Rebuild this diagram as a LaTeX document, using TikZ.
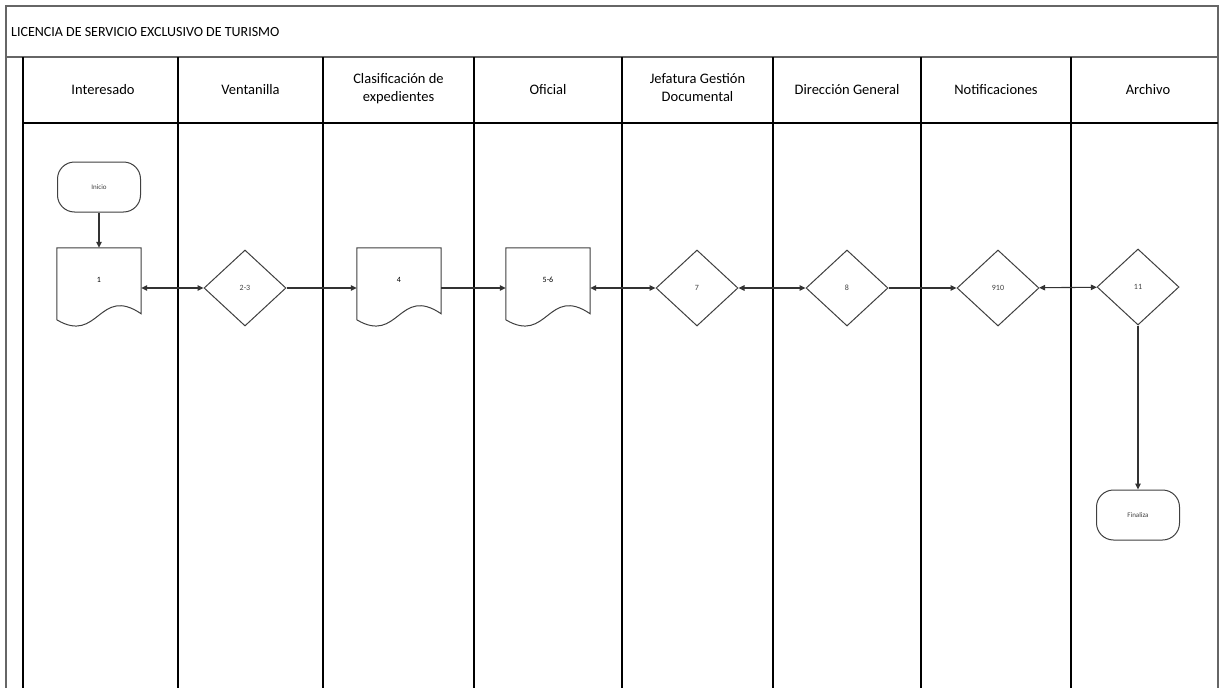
\documentclass[tikz,border=0pt]{standalone}
\usepackage{fontspec}
\setmainfont{Carlito}
\usetikzlibrary{shapes.geometric,arrows.meta,calc}

% wavy-bottom document outline around a named node
\newcommand\docoutline[1]{%
  \draw[shapeline,fill=white]
    (#1.north east) -- (#1.north west) -- ($(#1.north west)+(0,72)$)
    .. controls ($(#1.north west)+(42,97)$) and ($(#1.north west)+(42,37)$)
    .. ($(#1.north east)+(0,66)$) -- cycle;}

\begin{document}
\begin{tikzpicture}[x=1pt,y=-1pt,
  frame/.style={line width=1.3pt, black!60},
  lane/.style={line width=1.6pt, black},
  hdr/.style={font=\fontsize{14.5}{18}\selectfont, align=center, inner sep=0},
  shapeline/.style={line width=1pt, black!75},
  term/.style={shapeline, draw, fill=white, rounded corners=17pt,
    minimum width=83pt, minimum height=50pt, inner sep=0,
    font=\fontsize{7}{8}\selectfont},
  decision/.style={diamond, shapeline, draw, fill=white, inner sep=0,
    minimum width=82pt, minimum height=76pt, font=\fontsize{8}{9}\selectfont},
  docbody/.style={minimum width=84pt, minimum height=80pt, inner sep=0},
  doclabel/.style={font=\fontsize{8}{9}\selectfont, inner sep=0},
  flow/.style={line width=1.1pt, black!80, -{Triangle[length=6pt,width=5.5pt]}},
  twoway/.style={line width=1.1pt, black!80, {Triangle[length=6pt,width=5.5pt]}-{Triangle[length=6pt,width=5.5pt]}}
]
\useasboundingbox (0,0) rectangle (1219,688);
\fill[white] (0,0) rectangle (1219,688);

% outer frame and title band
\draw[frame] (6,688) -- (6,6) -- (1218,6) -- (1218,688);
\draw[frame] (6,57) -- (1218,57);
\node[anchor=west, inner sep=0, font=\fontsize{14}{16}\selectfont] (title) at (11,32)
  {LICENCIA DE SERVICIO EXCLUSIVO DE TURISMO};

% swimlane grid
\draw[lane] (23,57) -- (23,688);
\foreach \x in {178,323,474,622,773,921,1071}
  \draw[lane] (\x,57) -- (\x,688);
\draw[lane] (23,123) -- (1218,123);

% lane headers
\node[hdr] (h1) at (103,90) {Interesado};
\node[hdr] (h2) at (250.5,90) {Ventanilla};
\node[hdr] (h3) at (398.5,89) {Clasificación de\\expedientes};
\node[hdr] (h4) at (548,90) {Oficial};
\node[hdr] (h5) at (697.5,88) {Jefatura Gestión\\Documental};
\node[hdr] (h6) at (847,90) {Dirección General};
\node[hdr] (h7) at (996,90) {Notificaciones};
\node[hdr] (h8) at (1148,90) {Archivo};

% flow nodes
\node[term] (inicio) at (99,187) {Inicio};
\node[docbody] (d1) at (99,288) {};
\docoutline{d1}
\node[doclabel] (t1) at ($(d1.north)+(0,32)$) {1};
\node[decision] (c23) at (245,288) {2-3};
\node[docbody] (d4) at (399,288) {};
\docoutline{d4}
\node[doclabel] (t4) at ($(d4.north)+(0,32)$) {4};
\node[docbody] (d56) at (548,288) {};
\docoutline{d56}
\node[doclabel] (t56) at ($(d56.north)+(0,32)$) {5-6};
\node[decision] (c7) at (697,288) {7};
\node[decision] (c8) at (847,288) {8};
\node[decision] (c910) at (998,288) {910};
\node[decision] (c11) at (1138,287) {11};
\node[term] (fin) at (1138,515) {Finaliza};

% connectors
\draw[flow] (inicio) -- (d1.north);
\draw[twoway] (d1.east) -- (c23);
\draw[flow] (c23) -- (d4.west);
\draw[flow] (d4.east) -- (d56.west);
\draw[twoway] (d56.east) -- (c7);
\draw[twoway] (c7) -- (c8);
\draw[flow] (c8) -- (c910);
\draw[twoway] (c910) -- (c11);
\draw[flow] (c11) -- (fin);
\end{tikzpicture}
\end{document}
